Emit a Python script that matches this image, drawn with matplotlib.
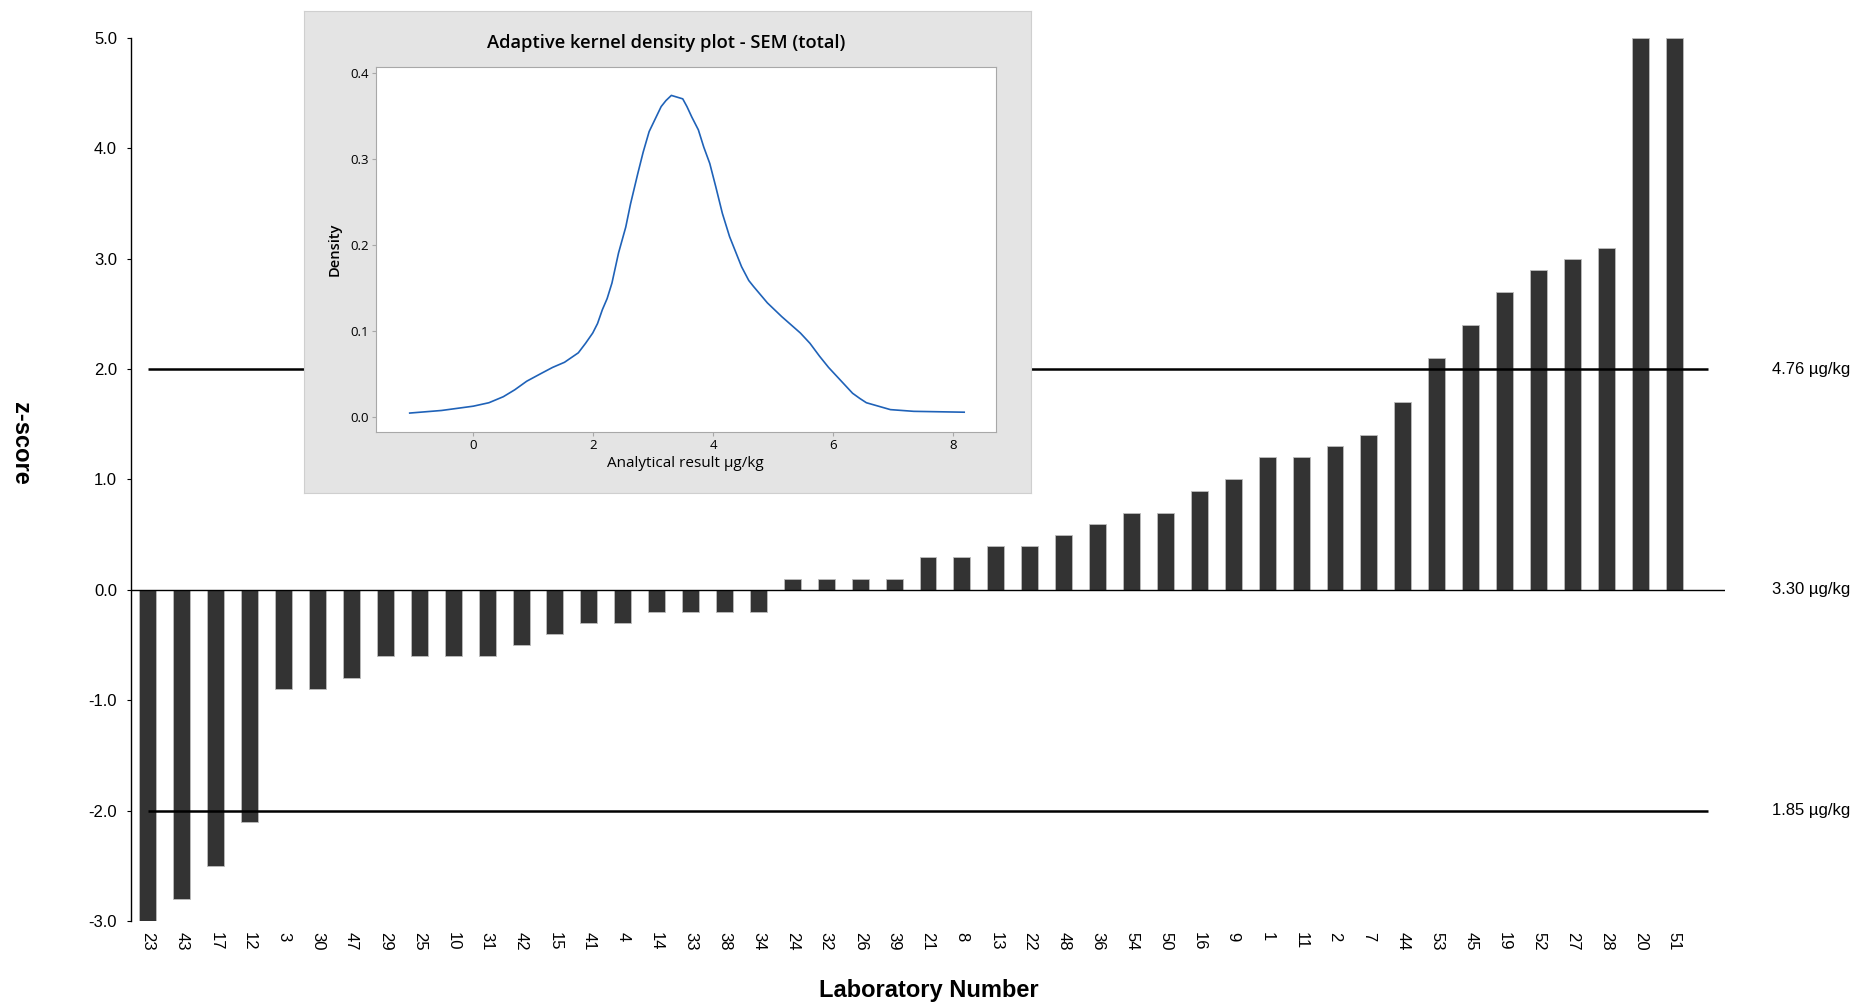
import matplotlib
matplotlib.use("Agg")
import matplotlib.pyplot as plt
import numpy as np

plt.rcParams['font.family'] = ['Liberation Sans', 'DejaVu Sans']

# laboratory numbers and z-scores, in plotted order
labs = ['23', '43', '17', '12', '3', '30', '47', '29', '25', '10', '31', '42', '15', '41',
        '4', '14', '33', '38', '34', '24', '32', '26', '39', '21', '8', '13', '22', '48',
        '36', '54', '50', '16', '9', '1', '11', '2', '7', '44', '53', '45', '19', '52',
        '27', '28', '20', '51']
z = [-3.0, -2.8, -2.5, -2.1, -0.9, -0.9, -0.8, -0.6, -0.6, -0.6, -0.6, -0.5, -0.4, -0.3,
     -0.3, -0.2, -0.2, -0.2, -0.2, 0.1, 0.1, 0.1, 0.1, 0.3, 0.3, 0.4, 0.4, 0.5,
     0.6, 0.7, 0.7, 0.9, 1.0, 1.2, 1.2, 1.3, 1.4, 1.7, 2.1, 2.4, 2.7, 2.9,
     3.0, 3.1, 5.0, 5.0]

# reference lines and their concentration labels
ref_z = [2.0, 0.0, -2.0]
ref_text = ['4.76 µg/kg', '3.30 µg/kg', '1.85 µg/kg']

# inset: adaptive kernel density
kde_x = [-1.06, -0.53, 0.0, 0.26, 0.50, 0.69, 0.89, 1.13, 1.32, 1.52, 1.75, 1.87, 1.99,
         2.07, 2.15, 2.23, 2.31, 2.42, 2.54, 2.62, 2.74, 2.83, 2.93, 3.13, 3.21, 3.30,
         3.49, 3.56, 3.64, 3.75, 3.84, 3.94, 4.04, 4.15, 4.27, 4.47, 4.59, 4.67, 4.90,
         5.14, 5.45, 5.61, 5.77, 5.92, 6.08, 6.32, 6.44, 6.55, 6.95, 7.34, 8.18]
kde_y = [0.005, 0.008, 0.013, 0.017, 0.024, 0.032, 0.042, 0.051, 0.058, 0.064, 0.075,
         0.086, 0.098, 0.109, 0.125, 0.138, 0.156, 0.191, 0.221, 0.248, 0.283, 0.308,
         0.332, 0.361, 0.368, 0.374, 0.370, 0.361, 0.349, 0.334, 0.314, 0.295, 0.268,
         0.237, 0.210, 0.175, 0.159, 0.152, 0.133, 0.117, 0.098, 0.086, 0.071, 0.058,
         0.046, 0.028, 0.022, 0.017, 0.009, 0.007, 0.006]

W, H = 1876, 1006
fig = plt.figure(figsize=(W / 100, H / 100), dpi=100)

ax = fig.add_axes([131 / W, 1 - 921 / H, (1725 - 131) / W, (921 - 38) / H])
x = np.arange(len(labs))
ax.bar(x, z, width=0.5, color='#333333', edgecolor='#bdbdbd', linewidth=0.6, zorder=2)

ax.axhline(0, color='black', lw=1.0, zorder=3)
for v in ref_z:
    if v != 0:
        ax.hlines(v, 0, len(labs), color='black', lw=1.8, zorder=3)
for v, t in zip(ref_z, ref_text):
    ax.text(1.0295, v, t, transform=ax.get_yaxis_transform(), ha='left', va='center',
            fontsize=12, clip_on=False)

ax.set_xlim(-0.5, len(labs) + 0.5)
ax.set_ylim(-3, 5)
ax.set_yticks(np.arange(-3, 6, 1))
ax.set_yticklabels(['%.1f' % v for v in np.arange(-3, 6, 1)], fontsize=12)
ax.set_xticks(x)
ax.set_xticklabels(labs, rotation=-90, fontsize=12)
ax.tick_params(axis='x', length=0, pad=8)
ax.tick_params(axis='y', length=3, width=0.8, pad=7)
for s in ['top', 'right', 'bottom']:
    ax.spines[s].set_visible(False)
ax.spines['left'].set_linewidth(1.0)

fig.text(20 / W, 1 - 443 / H, 'z-score', rotation=-90, fontsize=17, fontweight='bold',
         ha='center', va='center')
fig.text(929 / W, 1 - 990 / H, 'Laboratory Number', fontsize=17, fontweight='bold',
         ha='center', va='center')

# inset panel
box = fig.add_axes([304 / W, 1 - 493 / H, (1031 - 304) / W, (493 - 11) / H], zorder=5)
box.set_facecolor('#e4e4e4')
box.set_xticks([])
box.set_yticks([])
for s in box.spines.values():
    s.set_color('#cfcfcf')

ins = fig.add_axes([375.5 / W, 1 - 432 / H, (996 - 375.5) / W, (432 - 67) / H], zorder=6)
ins.plot(kde_x, kde_y, color='#1f62b8', lw=1.2)
ins.set_xlim(-1.63, 8.71)
ins.set_ylim(-0.017, 0.407)
ins.set_xticks([0, 2, 4, 6, 8])
ins.set_yticks([0.0, 0.1, 0.2, 0.3, 0.4])
ins.set_yticklabels(['0.0', '0.1', '0.2', '0.3', '0.4'])
for s in ins.spines.values():
    s.set_color('#a8a8a8')
ins.tick_params(colors='#a8a8a8', labelcolor='black', length=3, labelsize=9.5, pad=2)
for lab in ins.get_xticklabels() + ins.get_yticklabels():
    lab.set_family(['Open Sans', 'DejaVu Sans'])
ins.set_xlabel('Analytical result µg/kg', fontsize=11, family=['Open Sans', 'DejaVu Sans'],
               labelpad=3)
ins.set_ylabel('Density', fontsize=10.5, family=['Open Sans', 'DejaVu Sans'],
               fontweight='semibold', labelpad=6)
fig.text(666 / W, 1 - 43 / H, 'Adaptive kernel density plot - SEM (total)', fontsize=13.2,
         family=['Open Sans', 'DejaVu Sans'], fontweight='semibold', ha='center',
         va='center', zorder=7)

fig.savefig('out.png', dpi=100)
